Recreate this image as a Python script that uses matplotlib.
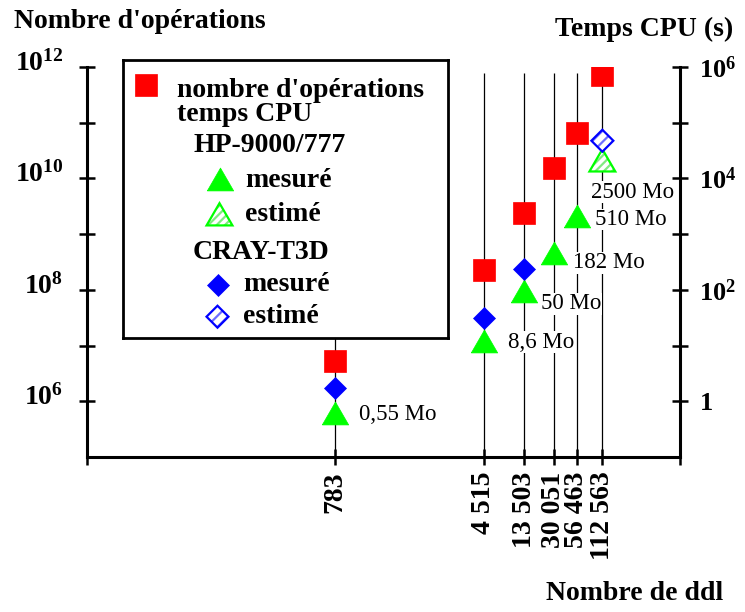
import numpy as np
import matplotlib
matplotlib.use("Agg")
import matplotlib.pyplot as plt
from matplotlib.ticker import NullFormatter
from matplotlib.patches import Polygon
from matplotlib.transforms import Affine2D, ScaledTranslation

plt.rcParams['font.family'] = ['Liberation Serif', 'DejaVu Serif']
plt.rcParams['mathtext.fontset'] = 'custom'
plt.rcParams['mathtext.rm'] = 'Liberation Serif'
plt.rcParams['mathtext.bf'] = 'Liberation Serif:bold'
plt.rcParams['hatch.linewidth'] = 1.6

# ------------------
# données
# ------------------
ddl = [783, 4515, 13503, 30051, 56463, 112563]
ddl_labels = ["783", "4 515", "13 503", "30 051", "56 463", "112 563"]
nb_operations = [5.3e6, 2.26e8, 2.44e9, 1.52e10, 6.6e10, 7.2e11]

# HP-9000/777 : temps CPU (s)
hp_ddl_mesure = [783, 4515, 13503, 30051, 56463]
hp_temps_mesure = [0.62, 12.0, 97.0, 461.0, 2160.0]
hp_ddl_estime = [112563]
hp_temps_estime = [21100.0]

# CRAY-T3D : temps CPU (s)
cray_ddl_mesure = [783, 4515, 13503]
cray_temps_mesure = [1.75, 31.5, 233.0]
cray_ddl_estime = [112563]
cray_temps_estime = [47500.0]

memoire = ["0,55 Mo", "8,6 Mo", "50 Mo", "182 Mo", "510 Mo", "2500 Mo"]

ops_ticks = [1e6, 1e8, 1e10, 1e12]
ops_ticklabels = [r'$\mathbf{10^{6}}$', r'$\mathbf{10^{8}}$',
                  r'$\mathbf{10^{10}}$', r'$\mathbf{10^{12}}$']
cpu_ticks = [1, 1e2, 1e4, 1e6]
cpu_ticklabels = [r'$\mathbf{1}$', r'$\mathbf{10^{2}}$',
                  r'$\mathbf{10^{4}}$', r'$\mathbf{10^{6}}$']

# décalage des étiquettes mémoire (pixels)
memoire_offsets = [(24, -2), (24, -1), (17, -13), (19, -10), (18, -4), (-11, -32)]

# ------------------
# échelle x : log, étirée sous 4515 ddl
# ------------------
X_BREAK = 4515.0
K_STRETCH = 2.305


def fwd(x):
    lx = np.log10(np.clip(x, 1e-12, None))
    lb = np.log10(X_BREAK)
    return np.where(lx >= lb, lx, lb - K_STRETCH * (lb - lx))


def inv(t):
    lb = np.log10(X_BREAK)
    return np.where(t >= lb, 10.0 ** t, 10.0 ** (lb - (lb - t) / K_STRETCH))


W, H = 745, 612
RED, GREEN, BLUE = '#ff0000', '#00ff00', '#0000ff'
LIGHT_GREEN, LIGHT_BLUE = '#80ea80', '#6e6eff'
tri = [(-1, -0.866), (1, -0.866), (0, 0.866), (-1, -0.866)]
# formes des marqueurs hachurés (en points)
tri_pt = [(-9.3, -8.0), (9.3, -8.0), (0, 8.0)]
diam_pt = [(0, 7.9), (7.9, 0), (0, -7.9), (-7.9, 0)]


def hatched_marker(a, x, y, verts, edge, light, hatch):
	# marqueur creux hachuré placé en coordonnées de données
	trans = (Affine2D().scale(1 / 72) + a.figure.dpi_scale_trans
	         + ScaledTranslation(x, y, a.transData))
	a.add_artist(Polygon(verts, closed=True, transform=trans, fc='white',
	                     ec=light, lw=0, hatch=hatch, zorder=3))
	a.add_artist(Polygon(verts, closed=True, transform=trans, fc='none',
	                     ec=edge, lw=1.6, zorder=3))


def main():
	fig = plt.figure(figsize=(W / 100, H / 100), dpi=100)
	ax = fig.add_axes([87 / W, 1 - 457 / H, 593 / W, 390 / H])
	ax.set_xscale('function', functions=(fwd, inv))
	ax.set_yscale('log')
	ax.set_xlim(float(inv(-1.02)), float(inv(5.966)))
	ax.set_ylim(1e5, 1e12)

	ax2 = ax.twinx()
	ax2.set_yscale('log')
	ax2.set_ylim(0.1, 1e6)

	# lignes verticales
	ax.vlines(ddl, 1e5, 10 ** 11.9, color='black', lw=0.9, zorder=1)

	# nombre d'opérations
	ax.plot(ddl, nb_operations, 's', ms=15.5, color=RED, mec=RED, mew=0.5,
	        ls='none', zorder=3)

	# temps CPU
	ax2.plot(hp_ddl_mesure, hp_temps_mesure, ls='none', marker=tri, ms=19,
	         color=GREEN, mew=0.5, zorder=3)
	ax2.plot(cray_ddl_mesure, cray_temps_mesure, 'D', ls='none', ms=11.5,
	         color=BLUE, mew=0.5, zorder=3)
	for xv, yv in zip(hp_ddl_estime, hp_temps_estime):
		hatched_marker(ax2, xv, yv, tri_pt, GREEN, LIGHT_GREEN, '////')
	for xv, yv in zip(cray_ddl_estime, cray_temps_estime):
		hatched_marker(ax2, xv, yv, diam_pt, BLUE, LIGHT_BLUE, '///')

	# étiquettes mémoire
	hp_ddl = hp_ddl_mesure + hp_ddl_estime
	hp_temps = hp_temps_mesure + hp_temps_estime
	for xv, yv, txt, off in zip(hp_ddl, hp_temps, memoire, memoire_offsets):
		ax2.annotate(txt, (xv, yv), xytext=off, textcoords='offset pixels',
		             ha='left', va='center', fontsize=16.5,
		             bbox=dict(fc='white', ec='none', pad=0.3), zorder=4)

	# axes
	for a in (ax, ax2):
		a.spines['top'].set_visible(False)
		for s in a.spines.values():
			s.set_linewidth(2.2)
	ax.spines['right'].set_visible(False)
	ax2.spines['left'].set_visible(False)
	ax2.spines['bottom'].set_visible(False)

	ax.set_xticks(ddl, ddl_labels, rotation=90, fontsize=20, fontweight='bold')
	ax.set_xticks([float(inv(-1.02)), float(inv(5.966))], minor=True)
	ax.set_yticks(ops_ticks, ops_ticklabels, fontsize=20)
	ax.set_yticks([1e7, 1e9, 1e11], minor=True)
	ax.yaxis.set_minor_formatter(NullFormatter())
	ax.xaxis.set_minor_formatter(NullFormatter())
	ax.tick_params(axis='both', which='both', direction='inout', length=12,
	               width=1.8, right=False, top=False)
	ax.tick_params(axis='y', pad=11)
	ax.tick_params(axis='x', pad=4.5)

	ax2.set_yticks(cpu_ticks, cpu_ticklabels, fontsize=19)
	ax2.set_yticks([10, 1e3, 1e5], minor=True)
	ax2.yaxis.set_minor_formatter(NullFormatter())
	ax2.tick_params(axis='y', which='both', direction='inout', length=12,
	                width=1.8, left=False, pad=8)

	# étiquettes de gauche un peu au-dessus des graduations
	up = ScaledTranslation(0, 7 / 100, fig.dpi_scale_trans)
	for lbl in ax.get_yticklabels():
		lbl.set_transform(lbl.get_transform() + up)

	# titres
	fig.text(14 / W, 1 - 22 / H, "Nombre d'opérations", fontsize=20,
	         fontweight='bold', va='center', ha='left')
	fig.text(555 / W, 1 - 29 / H, "Temps CPU (s)", fontsize=20,
	         fontweight='bold', va='center', ha='left')
	fig.text(546 / W, 1 - 593 / H, "Nombre de ddl", fontsize=20,
	         fontweight='bold', va='center', ha='left')

	# légende
	lg = fig.add_axes([123.3 / W, 1 - 337.7 / H, 325 / W, 277.7 / H], zorder=5)
	lg.set_xlim(0, 325)
	lg.set_ylim(277.7, 0)
	lg.set_xticks([])
	lg.set_yticks([])
	for s in lg.spines.values():
		s.set_linewidth(2)
	lg.plot(22.7, 25.5, 's', ms=15.5, color=RED, mew=0.5)
	lg.text(53.4, 42.5, "nombre d'opérations\ntemps CPU", fontsize=20,
	        fontweight='bold', va='center', ha='left', linespacing=0.95)
	lg.text(69.7, 85.7, "HP-9000/777", fontsize=20, fontweight='bold',
	        va='center', ha='left')
	lg.plot(96.2, 119.5, marker=tri, ms=19, color=GREEN, mew=0.5)
	lg.text(121.7, 121, "mesuré", fontsize=20, fontweight='bold',
	        va='center', ha='left')
	hatched_marker(lg, 96.2, 154.3, tri_pt, GREEN, LIGHT_GREEN, '////')
	lg.text(121.7, 155, "estimé", fontsize=20, fontweight='bold',
	        va='center', ha='left')
	lg.text(69.7, 193, "CRAY-T3D", fontsize=20, fontweight='bold',
	        va='center', ha='left')
	lg.plot(94.2, 225, 'D', ms=11.5, color=BLUE, mew=0.5)
	lg.text(119.7, 225, "mesuré", fontsize=20, fontweight='bold',
	        va='center', ha='left')
	hatched_marker(lg, 94.2, 256.7, diam_pt, BLUE, LIGHT_BLUE, '///')
	lg.text(119.7, 257, "estimé", fontsize=20, fontweight='bold',
	        va='center', ha='left')

	fig.savefig('out.png', dpi=100)


if __name__ == "__main__":
	main()
